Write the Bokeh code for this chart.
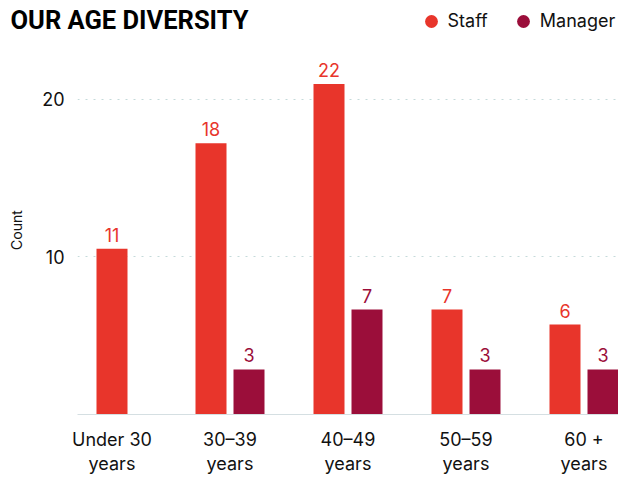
import numpy as np
from bokeh.plotting import figure
from bokeh.layouts import column
from bokeh.models import ColumnDataSource, Range1d, FixedTicker, Legend, LegendItem, Label
from bokeh.core.properties import value
from bokeh.embed import file_html
from bokeh.resources import INLINE

# ---- data ----
title_text = "OUR AGE DIVERSITY"
categories = ["Under 30\nyears", "30–39\nyears", "40–49\nyears", "50–59\nyears", "60 +\nyears"]
series_names = ["Staff", "Manager"]
staff_bar = [10.5, 17.2, 20.95, 6.65, 5.7]          # bar heights as drawn against the axis
manager_bar = [np.nan, 2.86, 6.65, 2.86, 2.86]
staff_labels = ["11", "18", "22", "7", "6"]          # value labels printed above bars
manager_labels = ["", "3", "7", "3", "3"]
y_ticks = [10, 20]

STAFF = "#E8352B"
MANAGER = "#9B0E3A"
FONT = "Inter"

TOTAL_W, TOTAL_H = 618, 477
HEAD_H = 45
FRAME_BOTTOM = 416          # page y of the bar baseline
PX_PER_UNIT = 15.86

# ---------------- header: title + legend ----------------
head = figure(width=TOTAL_W, height=HEAD_H, output_backend="svg", toolbar_location=None,
              x_range=Range1d(0, 1), y_range=Range1d(0, 1),
              x_axis_location=None, y_axis_location=None,
              min_border_left=0, min_border_right=0, min_border_top=0, min_border_bottom=0)
if "frame_align" in head.properties():
    head.frame_align = False
head.outline_line_color = None
head.xgrid.visible = False
head.ygrid.visible = False
head.background_fill_color = "white"
head.border_fill_color = "white"

head.add_layout(Label(x=10, y=HEAD_H - 19.3, x_units="screen", y_units="screen",
                      text=title_text, text_font="Roboto", text_font_style="bold",
                      text_font_size="25.5px", text_color="#000000",
                      text_align="left", text_baseline="middle"))

# legend markers: renderers with a single non-drawable point
d_staff = head.scatter(x=[np.nan], y=[np.nan], marker="circle", fill_color=STAFF, line_color=None)
d_mgr = head.scatter(x=[np.nan], y=[np.nan], marker="circle", fill_color=MANAGER, line_color=None)
legend = Legend(items=[LegendItem(label=series_names[0], renderers=[d_staff]),
                       LegendItem(label=series_names[1], renderers=[d_mgr])],
                orientation="horizontal", location=(414.5, HEAD_H - 36.6),
                glyph_width=32, glyph_height=32, label_standoff=1, spacing=19,
                padding=0, margin=0, border_line_color=None, background_fill_alpha=0,
                label_text_font=FONT, label_text_font_size="18px", label_text_color="#111111")
head.add_layout(legend)

# ---------------- chart ----------------
n = len(categories)
xc = np.arange(n)
mgr = np.array(manager_bar, dtype=float)
has_mgr = ~np.isnan(mgr)
OFF = 19 / 118
W = 31 / 118
staff_x = xc - np.where(has_mgr, OFF, 0.0)

staff_src = ColumnDataSource(dict(x=staff_x, top=staff_bar, label=staff_labels))
mgr_src = ColumnDataSource(dict(x=(xc + OFF)[has_mgr], top=mgr[has_mgr],
                                label=[l for l, h in zip(manager_labels, has_mgr) if h]))

chart_h = TOTAL_H - HEAD_H
frame_h = FRAME_BOTTOM - HEAD_H
p = figure(width=TOTAL_W, height=chart_h, output_backend="svg", toolbar_location=None,
           x_range=Range1d(-0.2924, 4.2924),
           y_range=Range1d(0, frame_h / PX_PER_UNIT),
           min_border_left=77, min_border_right=0, min_border_top=0,
           min_border_bottom=TOTAL_H - FRAME_BOTTOM)
if "frame_align" in p.properties():
    p.frame_align = False
p.outline_line_color = None
p.background_fill_color = "white"
p.border_fill_color = "white"

p.vbar(x="x", top="top", width=W, source=staff_src, fill_color=STAFF, line_color=None)
p.vbar(x="x", top="top", width=W, source=mgr_src, fill_color=MANAGER, line_color=None)

for src, col in ((staff_src, STAFF), (mgr_src, MANAGER)):
    p.text(x="x", y="top", text="label", source=src, y_offset=-14,
           text_align="center", text_baseline="alphabetic",
           text_font=value(FONT), text_font_size="18px", text_color=col)

# x axis
p.xaxis.ticker = FixedTicker(ticks=list(xc))
p.xaxis.major_label_overrides = {int(i): c for i, c in zip(xc, categories)}
p.xaxis.major_label_text_font = FONT
p.xaxis.major_label_text_font_size = "18px"
p.xaxis.major_label_text_color = "#111111"
p.xaxis.major_label_text_line_height = 1.17
p.xaxis.major_label_standoff = 8
p.xaxis.major_tick_line_color = None
p.xaxis.minor_tick_line_color = None
p.xaxis.axis_line_color = "#D5DFE2"
p.xgrid.grid_line_color = None

# y axis
p.yaxis.ticker = FixedTicker(ticks=y_ticks)
p.yaxis.axis_label = "Count"
p.yaxis.axis_label_text_font = FONT
p.yaxis.axis_label_text_font_size = "14px"
p.yaxis.axis_label_text_font_style = "normal"
p.yaxis.axis_label_text_color = "#111111"
p.yaxis.axis_label_standoff = 14
p.yaxis.major_label_text_font = FONT
p.yaxis.major_label_text_font_size = "18px"
p.yaxis.major_label_text_color = "#111111"
p.yaxis.major_label_standoff = 7
p.yaxis.major_tick_line_color = None
p.yaxis.minor_tick_line_color = None
p.yaxis.axis_line_color = None
p.ygrid.ticker = FixedTicker(ticks=y_ticks)
p.ygrid.grid_line_color = "#C5DADA"
p.ygrid.grid_line_dash = "2 6"

layout = column(head, p, spacing=0)
open("out.html", "w").write(file_html(layout, INLINE))
